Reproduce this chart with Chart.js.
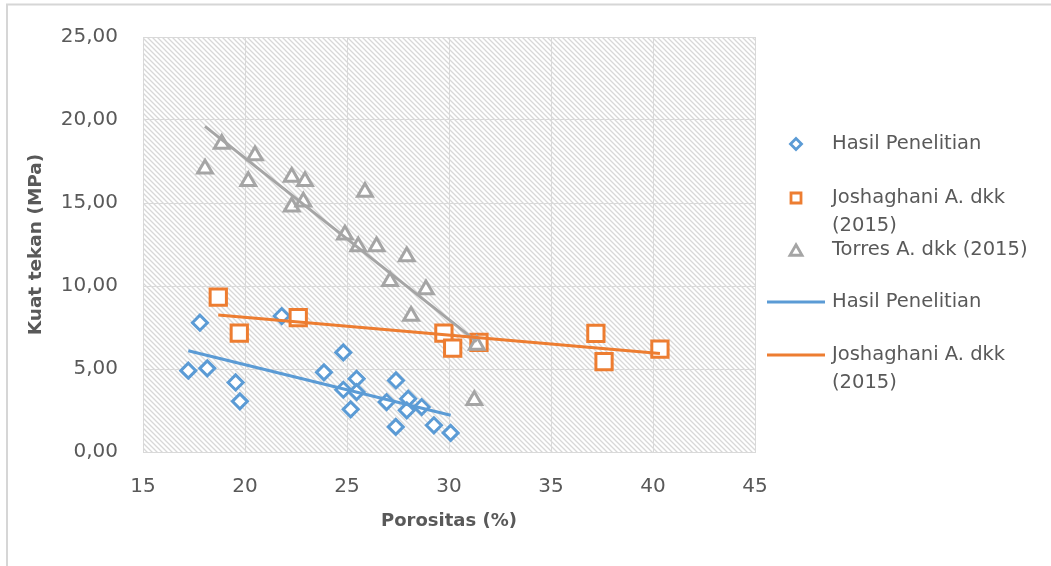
<!DOCTYPE html>
<html>
<head>
<meta charset="utf-8">
<title>Kuat tekan vs Porositas</title>
<script src="https://cdn.jsdelivr.net/npm/chart.js@4.4.1/dist/chart.umd.min.js"></script>
<style>
  html, body { margin: 0; padding: 0; background: #ffffff; }
  #wrap { width: 1051px; height: 566px; position: relative; }
</style>
</head>
<body>
<div id="wrap"><canvas id="chart" width="1051" height="566"></canvas></div>
<script>
// Axis ticks
const xTickValues = [15, 20, 25, 30, 35, 40, 45];
const yTickValues = [0, 5, 10, 15, 20, 25];
const yTickLabels = ['0,00', '5,00', '10,00', '15,00', '20,00', '25,00'];

// Series names
const seriesNames = ['Hasil Penelitian', 'Joshaghani A. dkk (2015)', 'Torres A. dkk (2015)'];

// Hasil Penelitian: porosity (%) and compressive strength (MPa)
const hasilX = [17.79, 17.22, 18.15, 19.54, 19.75, 21.80, 24.82, 23.87, 25.47, 24.82,
                25.47, 25.18, 27.40, 26.94, 28.00, 27.93, 28.66, 27.39, 29.26, 30.08];
const hasilY = [7.79, 4.90, 5.04, 4.19, 3.05, 8.19, 6.00, 4.80, 4.41, 3.75,
                3.61, 2.57, 4.31, 3.01, 3.21, 2.51, 2.71, 1.51, 1.61, 1.15];

// Joshaghani A. dkk (2015)
const joshX = [18.69, 19.72, 22.61, 29.75, 30.18, 31.47, 37.20, 37.60, 40.34];
const joshY = [9.33, 7.16, 8.09, 7.16, 6.26, 6.60, 7.14, 5.44, 6.20];

// Torres A. dkk (2015)
const torresX = [18.04, 18.86, 20.16, 20.49, 22.29, 22.94, 22.29, 22.86, 25.88,
                 24.90, 25.55, 26.45, 27.93, 27.11, 28.87, 28.14, 31.36, 31.24];
const torresY = [17.06, 18.56, 16.31, 17.86, 16.57, 16.31, 14.77, 15.07, 15.67,
                 13.08, 12.38, 12.38, 11.78, 10.29, 9.79, 8.19, 6.45, 3.11];

// Linear trend lines (end points)
const hasilTrendX = [17.22, 30.08];
const hasilTrendY = [6.10, 2.21];
const joshTrendX = [18.69, 40.34];
const joshTrendY = [8.25, 5.93];
const torresTrendX = [18.04, 31.36];
const torresTrendY = [19.62, 6.65];

const FONT = "'DejaVu Sans', 'Liberation Sans', sans-serif";
const TEXT = '#595959';
const GRID = '#d9d9d9';
const BLUE = '#5B9BD5';
const ORANGE = '#ED7D31';
const GRAY = '#A5A5A5';

function pts(xs, ys) { return xs.map((x, i) => ({ x: x, y: ys[i] })); }

// Background frame + hatched plot area
const backdrop = {
  id: 'backdrop',
  beforeDraw(chart) {
    const ctx = chart.ctx;
    const a = chart.chartArea;
    ctx.save();
    ctx.fillStyle = '#ffffff';
    ctx.fillRect(0, 0, chart.width, chart.height);
    // outer frame edges
    ctx.strokeStyle = '#d6d6d6';
    ctx.lineWidth = 2;
    ctx.beginPath();
    ctx.moveTo(7, chart.height);
    ctx.lineTo(7, 4.5);
    ctx.lineTo(chart.width, 4.5);
    ctx.stroke();
    // diagonal hatch
    const s = 5;
    const tile = document.createElement('canvas');
    tile.width = s; tile.height = s;
    const t = tile.getContext('2d');
    t.fillStyle = '#ffffff';
    t.fillRect(0, 0, s, s);
    t.strokeStyle = '#d8d8d8';
    t.lineWidth = 1.3;
    t.beginPath();
    t.moveTo(-1, -1); t.lineTo(s + 1, s + 1);
    t.moveTo(-1, s - 1); t.lineTo(1, s + 1);
    t.moveTo(s - 1, -1); t.lineTo(s + 1, 1);
    t.stroke();
    ctx.fillStyle = ctx.createPattern(tile, 'repeat');
    ctx.fillRect(a.left, a.top, a.right - a.left, a.bottom - a.top);
    ctx.restore();
  }
};

// Legend on the right, with wrapped labels
const sideLegend = {
  id: 'sideLegend',
  afterDraw(chart, args, opts) {
    const ctx = chart.ctx;
    ctx.save();
    ctx.font = opts.fontSize + 'px ' + FONT;
    ctx.fillStyle = TEXT;
    ctx.textBaseline = 'middle';
    ctx.textAlign = 'left';
    const entries = chart.data.datasets.filter(d => d.legendKind);
    entries.forEach((d, i) => {
      const y = opts.rowY[i];
      if (d.legendKind === 'line') {
        ctx.strokeStyle = d.borderColor;
        ctx.lineWidth = 3;
        ctx.beginPath();
        ctx.moveTo(opts.lineX0, y);
        ctx.lineTo(opts.lineX1, y);
        ctx.stroke();
      } else {
        drawMarker(ctx, d.pointStyle, opts.markerX, y, d.pointBorderColor);
      }
      // word wrap
      const words = d.label.split(' ');
      const lines = [];
      let cur = '';
      words.forEach(w => {
        const test = cur ? cur + ' ' + w : w;
        if (ctx.measureText(test).width > opts.maxWidth && cur) {
          lines.push(cur);
          cur = w;
        } else {
          cur = test;
        }
      });
      lines.push(cur);
      ctx.fillStyle = TEXT;
      lines.forEach((ln, k) => ctx.fillText(ln, opts.textX, y + k * opts.lineStep));
    });
    ctx.restore();
  }
};

function drawMarker(ctx, style, x, y, color) {
  ctx.save();
  ctx.fillStyle = '#ffffff';
  ctx.strokeStyle = color;
  ctx.lineWidth = 2.8;
  ctx.beginPath();
  if (style === 'rectRot') {
    const r = 5.5;
    ctx.moveTo(x, y - r); ctx.lineTo(x + r, y); ctx.lineTo(x, y + r); ctx.lineTo(x - r, y);
  } else if (style === 'rect') {
    const h = 5;
    ctx.rect(x - h, y - h, 2 * h, 2 * h);
  } else {
    const r = 7;
    const c = y + r / 4;
    ctx.moveTo(x, c - r);
    ctx.lineTo(x + r * Math.sin(2 * Math.PI / 3), c - r * Math.cos(2 * Math.PI / 3));
    ctx.lineTo(x + r * Math.sin(4 * Math.PI / 3), c - r * Math.cos(4 * Math.PI / 3));
  }
  ctx.closePath();
  ctx.fill();
  ctx.stroke();
  ctx.restore();
}

function markerSet(label, xs, ys, style, radius, color, order) {
  return {
    label: label,
    data: pts(xs, ys),
    showLine: false,
    pointStyle: style,
    pointRadius: radius,
    pointHoverRadius: radius,
    pointBorderColor: color,
    pointBackgroundColor: '#ffffff',
    pointBorderWidth: 3,
    borderColor: color,
    backgroundColor: '#ffffff',
    order: order,
    legendKind: 'marker'
  };
}

function trendSet(label, xs, ys, color, inLegend) {
  return {
    label: label,
    data: pts(xs, ys),
    showLine: true,
    borderColor: color,
    borderWidth: 3,
    pointRadius: 0,
    pointHoverRadius: 0,
    fill: false,
    order: 0,
    legendKind: inLegend ? 'line' : null
  };
}

new Chart(document.getElementById('chart'), {
  type: 'scatter',
  data: {
    datasets: [
      markerSet(seriesNames[0], hasilX, hasilY, 'rectRot', 7.5, BLUE, 3),
      markerSet(seriesNames[1], joshX, joshY, 'rect', 11.5, ORANGE, 2),
      markerSet(seriesNames[2], torresX, torresY, 'triangle', 8.5, GRAY, 1),
      trendSet(seriesNames[0], hasilTrendX, hasilTrendY, BLUE, true),
      trendSet(seriesNames[1], joshTrendX, joshTrendY, ORANGE, true),
      trendSet(seriesNames[2], torresTrendX, torresTrendY, GRAY, false)
    ]
  },
  options: {
    responsive: false,
    animation: false,
    events: [],
    layout: { padding: { left: 0, top: 34, right: 296, bottom: 34 } },
    plugins: {
      legend: { display: false },
      tooltip: { enabled: false },
      sideLegend: {
        markerX: 796, textX: 832, lineX0: 767, lineX1: 825,
        rowY: [144, 198, 250, 302, 355], lineStep: 28, maxWidth: 217, fontSize: 19.5
      }
    },
    scales: {
      x: {
        type: 'linear',
        min: 15, max: 45,
        afterBuildTicks: s => { s.ticks = xTickValues.map(v => ({ value: v })); },
        afterFit: s => { s.height = 80; },
        ticks: {
          font: { family: FONT, size: 20 }, color: TEXT, padding: 23,
          maxRotation: 0, autoSkip: false,
          callback: v => String(v)
        },
        grid: { color: GRID, lineWidth: 1, drawTicks: false },
        border: { display: true, color: GRID },
        title: {
          display: true, text: 'Porositas (%)', color: TEXT, padding: 0,
          font: { family: FONT, size: 18, weight: 'bold' }
        }
      },
      y: {
        type: 'linear',
        min: 0, max: 25,
        afterBuildTicks: s => { s.ticks = yTickValues.map(v => ({ value: v })); },
        afterFit: s => { s.width = 143; },
        ticks: {
          font: { family: FONT, size: 20 }, color: TEXT, padding: 25,
          callback: v => yTickLabels[yTickValues.indexOf(v)]
        },
        grid: { color: GRID, lineWidth: 1, drawTicks: false },
        border: { display: true, color: GRID },
        title: {
          display: true, text: 'Kuat tekan (MPa)', color: TEXT,
          padding: { top: 25, bottom: 0 },
          font: { family: FONT, size: 18.5, weight: 'bold' }
        }
      }
    }
  },
  plugins: [backdrop, sideLegend]
});
</script>
</body>
</html>
